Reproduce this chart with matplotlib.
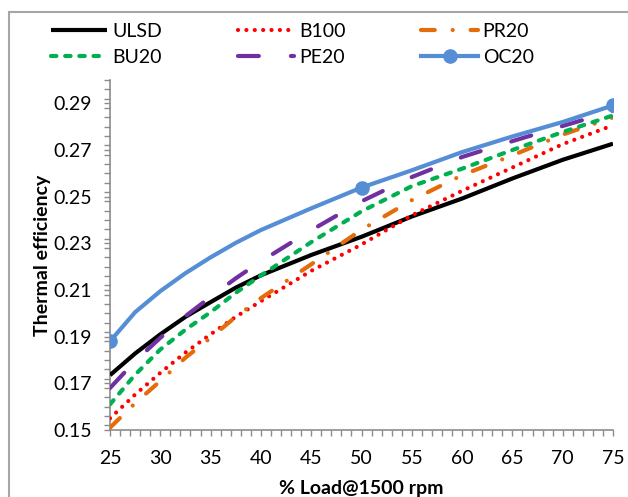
import matplotlib
matplotlib.use("Agg")
import matplotlib.pyplot as plt
from matplotlib.ticker import MultipleLocator, FixedLocator
from matplotlib.patches import Rectangle

plt.rcParams['font.family'] = ['Lato', 'DejaVu Sans']

load = [25, 27.5, 30, 32.5, 35, 37.5, 40, 45, 50, 55, 60, 65, 70, 75]
ulsd = [0.1735, 0.1828, 0.1910, 0.1985, 0.2048, 0.2110, 0.2163, 0.2250, 0.2328, 0.2415, 0.2492, 0.2578, 0.2658, 0.2727]
b100 = [0.1550, 0.1652, 0.1745, 0.1832, 0.1910, 0.1985, 0.2052, 0.2182, 0.2295, 0.2420, 0.2525, 0.2625, 0.2725, 0.2806]
pr20 = [0.1510, 0.1615, 0.1710, 0.1810, 0.1895, 0.1985, 0.2065, 0.2210, 0.2358, 0.2485, 0.2592, 0.2677, 0.2766, 0.2840]
bu20 = [0.1610, 0.1737, 0.1845, 0.1930, 0.2005, 0.2088, 0.2162, 0.2305, 0.2437, 0.2545, 0.2620, 0.2700, 0.2777, 0.2848]
pe20 = [0.1680, 0.1795, 0.1895, 0.1988, 0.2070, 0.2150, 0.2223, 0.2356, 0.2480, 0.2584, 0.2670, 0.2738, 0.2803, 0.2867]
oc20 = [0.1880, 0.2005, 0.2095, 0.2172, 0.2240, 0.2302, 0.2357, 0.2450, 0.2539, 0.2613, 0.2691, 0.2758, 0.2820, 0.2891]
marker_loads = [25, 50, 75]

y_ticks = [0.15, 0.17, 0.19, 0.21, 0.23, 0.25, 0.27, 0.29]
x_ticks = [25, 30, 35, 40, 45, 50, 55, 60, 65, 70, 75]

fig = plt.figure(figsize=(6.28, 4.97), dpi=100)
ax = fig.add_axes([110/628, 1-430/497, (613-110)/628, (430-80)/497])

lw = 3.0
h_ulsd, = ax.plot(load, ulsd, color='black', lw=lw, solid_capstyle='butt',
                  solid_joinstyle='round', label='ULSD', zorder=3)
h_b100, = ax.plot(load, b100, color='#FF0000', lw=lw, linestyle=(0, (0.01, 2.0)),
                  dash_capstyle='round', label='B100', zorder=3)
h_pr20, = ax.plot(load, pr20, color='#E46C0A', lw=lw, linestyle=(0, (3.3, 4.3, 0.01, 4.3)),
                  dash_capstyle='round', label='PR20', zorder=3)
h_bu20, = ax.plot(load, bu20, color='#00B050', lw=lw, linestyle=(0, (1.3, 2.1)),
                  dash_capstyle='round', label='BU20', zorder=3)
h_pe20, = ax.plot(load, pe20, color='#7030A0', lw=lw, linestyle=(0, (5.0, 7.7)),
                  dash_capstyle='round', label='PE20', zorder=3)
mk_idx = [load.index(v) for v in marker_loads]
h_oc20, = ax.plot(load, oc20, color='#558ED5', lw=lw, marker='o', markersize=9.5,
                  markevery=mk_idx, solid_joinstyle='round', label='OC20', zorder=4)

ax.set_xlim(25, 75)
ax.set_ylim(0.15, 0.30)
ax.xaxis.set_major_locator(FixedLocator(x_ticks))
ax.xaxis.set_minor_locator(MultipleLocator(1))
ax.yaxis.set_major_locator(FixedLocator(y_ticks))
ax.yaxis.set_minor_locator(MultipleLocator(0.004))
ax.set_xticklabels([str(v) for v in x_ticks])
ax.set_yticklabels([f"{v:.2f}" for v in y_ticks])

for s in ['top', 'right']:
    ax.spines[s].set_visible(False)
for s in ['left', 'bottom']:
    ax.spines[s].set_color('#8C8C8C')
    ax.spines[s].set_linewidth(1.2)

ax.tick_params(axis='both', which='both', direction='out', color='#8C8C8C', width=1.0)
ax.tick_params(axis='x', which='both', length=4.5)
ax.tick_params(axis='y', which='both', length=4)
ax.tick_params(axis='x', which='major', labelsize=14, pad=10)
ax.tick_params(axis='y', which='major', labelsize=14, pad=9)

ax.set_xlabel('% Load@1500 rpm', fontsize=14, fontweight='bold', labelpad=9)
ax.set_ylabel('Thermal efficiency', fontsize=14, fontweight='bold', labelpad=2)

handles = [h_ulsd, h_bu20, h_b100, h_pe20, h_pr20, h_oc20]
fig.legend(handles=handles, labels=[h.get_label() for h in handles], ncol=3,
           loc='upper left', bbox_to_anchor=(51/628, 1-23/497), frameon=False,
           fontsize=14, handlelength=2.9, handletextpad=0.25, columnspacing=3.9,
           labelspacing=0.45, borderpad=0, borderaxespad=0)

fig.patches.append(Rectangle((9/628, -0.1), 1.2, (497-12)/497 + 0.1, transform=fig.transFigure,
                             fill=False, edgecolor='#A6A6A6', linewidth=1.5))

fig.savefig('out.png', dpi=100)
